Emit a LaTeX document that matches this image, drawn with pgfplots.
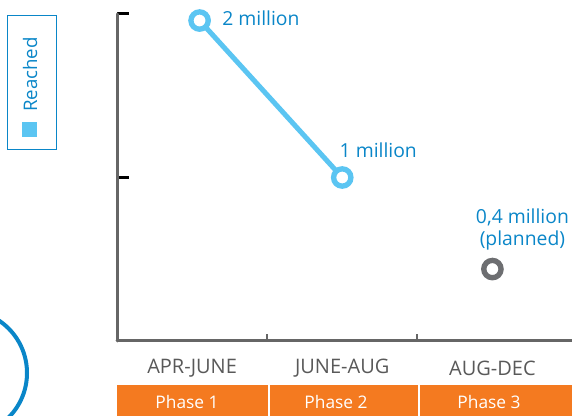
\documentclass[border=0pt]{standalone}
\usepackage{pgfplots}
\pgfplotsset{compat=1.18}
\usepackage{fontspec}
\setmainfont{Open Sans}
\definecolor{lblue}{HTML}{5BC5F2}
\definecolor{dblue}{HTML}{0A86C8}
\definecolor{orng}{HTML}{F47A20}
\definecolor{axgray}{HTML}{666666}
\definecolor{mgray}{HTML}{6D6E71}
\definecolor{labgray}{HTML}{595959}
\begin{document}
\begin{tikzpicture}
\useasboundingbox (0,0) rectangle (429pt,-312pt);
\begin{scope}[x=0.75pt,y=-0.75pt]
  \begin{scope}
    \clip (0,0) rectangle (572,416);
    \draw[dblue, line width=3pt] (-36,373) circle (63);
  \end{scope}
  \draw[dblue, line width=1.2pt] (7.5,15.5) rectangle (56.5,149.5);
  \node[rotate=90, text=dblue, font=\fontsize{14}{16}\selectfont, inner sep=0pt] at (30,74.5) {Reached};
  \fill[lblue] (22,122) rectangle (37,137);
  \fill[orng] (117,385) rectangle (267.5,416);
  \fill[orng] (269.5,385) rectangle (417.5,416);
  \fill[orng] (419.5,385) rectangle (572,416);
  \node[text=white, font=\fontsize{13}{15}\selectfont] at (187,402) {Phase 1};
  \node[text=white, font=\fontsize{13}{15}\selectfont] at (336,402) {Phase 2};
  \node[text=white, font=\fontsize{13}{15}\selectfont] at (489,402) {Phase 3};
\end{scope}
\begin{axis}[at={(87.75pt,-255.75pt)}, anchor=south west, scale only axis,
  width=341.25pt, height=245.25pt,
  xmin=-0.5, xmax=2.53, ymin=0, ymax=2,
  axis lines=left,
  axis line style={-, axgray, line width=2.25pt, line cap=round},
  clip=false,
  tick align=inside,
  ytick={1,2}, yticklabels={},
  major tick length=9pt,
  y tick style={black, line width=2.25pt},
  xtick={0,1,2}, xticklabels={},
  major x tick style={draw=none},
  minor xtick={0.5,1.5},
  minor tick length=5.5pt,
  minor x tick style={axgray, line width=1.6pt},
]
\addplot[lblue, line width=3.75pt, mark=*, mark size=6.5pt,
  mark options={fill=white, draw=lblue, line width=4pt}]
  coordinates {(0.05,1.96) (1,1)};
\addplot[only marks, mark=*, mark size=6.5pt,
  mark options={fill=white, draw=mgray, line width=4pt}]
  coordinates {(2,0.44)};
\node[anchor=west, text=dblue, font=\fontsize{14.5}{16}\selectfont, inner sep=0pt] at (axis cs:0.2,1.976) {2 million};
\node[text=dblue, font=\fontsize{14.5}{16}\selectfont, inner sep=0pt] at (axis cs:1.24,1.168) {1 million};
\node[text=dblue, font=\fontsize{14.5}{16.5}\selectfont, align=center, inner sep=0pt] at (axis cs:2.2,0.685) {0,4 million\\(planned)};
\node[text=labgray, font=\fontsize{15}{17}\selectfont, yshift=-20.25pt] at (axis cs:0,0) {APR-JUNE};
\node[text=labgray, font=\fontsize{15}{17}\selectfont, yshift=-20.25pt] at (axis cs:1,0) {JUNE-AUG};
\node[text=labgray, font=\fontsize{15}{17}\selectfont, yshift=-20.25pt] at (axis cs:2,0) {AUG-DEC};
\end{axis}
\end{tikzpicture}
\end{document}
